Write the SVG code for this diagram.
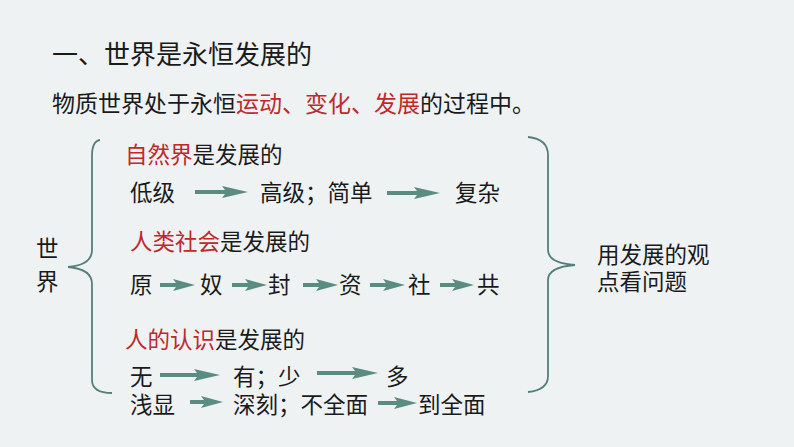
<svg xmlns="http://www.w3.org/2000/svg" width="794" height="447" viewBox="0 0 794 447">
<style>
text{font-family:"Noto Sans CJK SC","Noto Sans",sans-serif;fill:#1a1a1a;}
.t{font-size:26px;}
.b{font-size:23px;}
.n{font-size:22.5px;}
.r{fill:#c0282b;}
.br{fill:none;stroke:#55807a;stroke-width:1.8;}
.ar{fill:#5b8c82;}
</style>
<rect width="794" height="447" fill="#eef2f3"/>
<g id="title"><text class="t" x="52" y="64">一、世界是永恒发展的</text></g>
<g id="intro"><text class="b" x="52" y="112">物质世界处于永恒<tspan class="r">运动、变化、发展</tspan>的过程中。</text></g>
<g id="world"><text class="n" x="36" y="257">世</text><text class="n" x="36" y="290">界</text></g>
<g id="nature">
<text class="n" x="125" y="163"><tspan class="r">自然界</tspan>是发展的</text>
<text class="n" x="130" y="201">低级</text>
<text class="n" x="260" y="201">高级；简单</text>
<text class="n" x="455" y="201">复杂</text>
</g>
<g id="society">
<text class="n" x="130" y="250"><tspan class="r">人类社会</tspan>是发展的</text>
<text class="n" x="130" y="293">原</text>
<text class="n" x="200" y="293">奴</text>
<text class="n" x="268" y="293">封</text>
<text class="n" x="339" y="293">资</text>
<text class="n" x="408" y="293">社</text>
<text class="n" x="477" y="293">共</text>
</g>
<g id="cognition">
<text class="n" x="125" y="348"><tspan class="r">人的认识</tspan>是发展的</text>
<text class="n" x="130" y="385">无</text>
<text class="n" x="233" y="385">有；少</text>
<text class="n" x="386" y="385">多</text>
<text class="n" x="130" y="413">浅显</text>
<text class="n" x="233" y="413">深刻；不全面</text>
<text class="n" x="418" y="413">到全面</text>
</g>
<g id="conclusion">
<text class="n" x="597" y="263">用发展的观</text>
<text class="n" x="597" y="290">点看问题</text>
</g>
<g id="brackets">
<path class="br" d="M100 140 Q92 141 92 156 L92 250 Q92 265 68 267 Q92 269 92 284 L92 380 Q92 393 112 393"/>
<path class="br" d="M528 137 Q548 139 548 155 L548 250 Q548 263 575 265 Q548 267 548 280 L548 376 Q548 390 528 392"/>
</g>
<g id="connectors">
<polygon class="ar" points="195,190 225,190 222,186 248,192 222,198 225,194 195,194"/>
<polygon class="ar" points="387,191 417,191 414,187 440,193 414,199 417,195 387,195"/>
<polygon class="ar" points="160,283 176,283 173,279 195,285 173,291 176,287 160,287"/>
<polygon class="ar" points="232,283 248,283 245,279 267,285 245,291 248,287 232,287"/>
<polygon class="ar" points="303,283 319,283 316,279 338,285 316,291 319,287 303,287"/>
<polygon class="ar" points="370,283 386,283 383,279 405,285 383,291 386,287 370,287"/>
<polygon class="ar" points="440,283 455,283 452,279 474,285 452,291 455,287 440,287"/>
<polygon class="ar" points="160,373 197,373 194,369 220,375 194,381 197,377 160,377"/>
<polygon class="ar" points="317,371 355,371 352,367 378,373 352,379 355,375 317,375"/>
<polygon class="ar" points="190,400 204,400 201,396 223,402 201,408 204,404 190,404"/>
<polygon class="ar" points="378,401 397,401 394,397 417,403 394,409 397,405 378,405"/>
</g>
</svg>
